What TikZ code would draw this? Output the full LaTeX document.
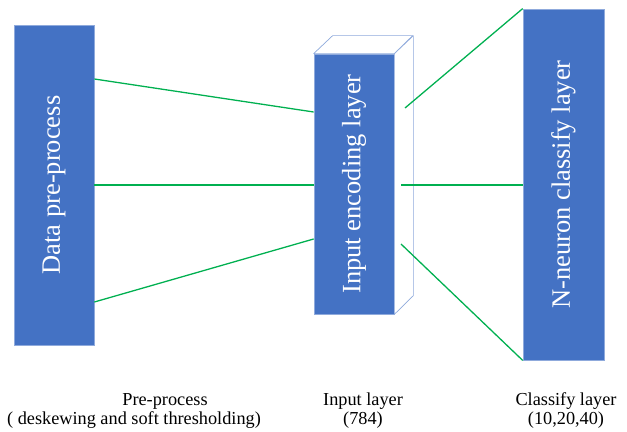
\documentclass[tikz,border=0pt]{standalone}
\usepackage{fontspec}
\setmainfont{Liberation Serif}
\definecolor{boxblue}{HTML}{4472C4}
\definecolor{edgeblue}{HTML}{8FAADC}
\definecolor{linkgreen}{HTML}{00B050}
\tikzset{
  layerbox/.style={fill=boxblue,draw=edgeblue,line width=0.6pt,text=white,inner sep=0pt,
    font=\fontsize{22.6}{26}\selectfont},
  depthface/.style={draw=edgeblue,fill=white,line width=0.6pt,line join=round},
  link/.style={draw=linkgreen,line width=1.1pt},
  caption/.style={font=\fontsize{15.6}{17}\selectfont,inner sep=0pt,anchor=base}
}
\begin{document}
\begin{tikzpicture}[x=0.03cm,y=-0.03cm]
   \useasboundingbox (0,0) rectangle (627,432);

   \node[layerbox,minimum width=2.4cm,minimum height=9.6cm] (data) at (54,185) {\rotatebox{90}{Data pre-process}};
   \node[layerbox,minimum width=2.4cm,minimum height=7.8cm] (enc) at (354,184) {\rotatebox{90}{Input encoding layer}};
   \node[layerbox,minimum width=2.43cm,minimum height=10.53cm] (cls) at (563.5,184.5) {\rotatebox{90}{N-neuron classify layer}};

   % depth of the input layer
   \draw[depthface] (enc.north west) -- ++(19,-18) -- ++(80,0) -- (enc.north east) -- cycle;
   \draw[depthface] (enc.north east) -- ++(19,-18) -- ++(0,260) -- (enc.south east) -- cycle;

   \draw[link] (data.east |- 0,79) -- (enc.west |- 0,112);
   \draw[link] (data.east |- 0,185) -- (enc.west |- 0,185);
   \draw[link] (data.east |- 0,302) -- (enc.west |- 0,239);

   \coordinate (o1) at (405,108);
   \coordinate (o2) at (401,185);
   \coordinate (o3) at (401,244);
   \draw[link] (o1) -- (cls.north west);
   \draw[link] (o2) -- (cls.west |- o2);
   \draw[link] (o3) -- (cls.south west);

   \node[caption] (pre) at (165,405) {Pre-process};
   \node[caption] (prenote) at (134,424) {( deskewing and soft thresholding)};
   \node[caption] (inl) at (363,405) {Input layer};
   \node[caption] (inn) at (363,424) {(784)};
   \node[caption] (clsl) at (566,405) {Classify layer};
   \node[caption] (clsn) at (566,424) {(10,20,40)};
\end{tikzpicture}
\end{document}
